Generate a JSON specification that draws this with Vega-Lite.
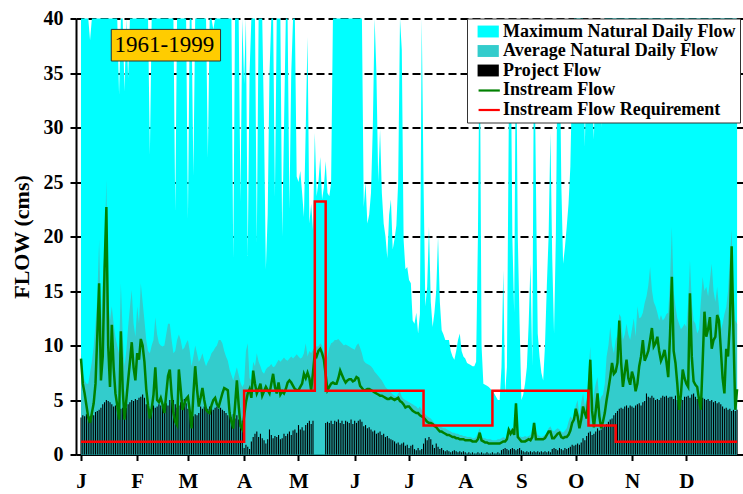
{
"$schema": "https://vega.github.io/schema/vega-lite/v6.json",
"width": 667,
"height": 436,
"autosize": {"type": "none"},
"padding": {"left": 76, "top": 18.5, "right": 0, "bottom": 39.5},
"background": "white",
"config": {
  "view": {"stroke": null},
  "font": "Liberation Serif",
  "axis": {"labelFont": "Liberation Serif", "labelFontWeight": "bold", "labelColor": "black", "domainColor": "black", "domainWidth": 2, "tickColor": "black", "tickWidth": 2, "tickSize": 6, "titleFont": "Liberation Serif", "titleFontWeight": "bold", "titleColor": "black", "labelFlush": false, "labelOverlap": false},
  "axisX": {"labelFontSize": 21, "labelPadding": 10, "grid": false},
  "axisY": {"labelFontSize": 20, "labelPadding": 7, "grid": true, "gridColor": "black", "gridDash": [8, 4], "gridWidth": 1.8, "gridOpacity": 1, "titleFontSize": 22, "titlePadding": 10},
  "legend": {
    "orient": "none", "legendX": 391, "title": null, "padding": 4,
    "labelFont": "Liberation Serif", "labelFontWeight": "bold", "labelFontSize": 18, "labelColor": "black", "labelLimit": 500,
    "symbolSize": 289, "labelOffset": 5.8, "symbolOffset": 8.2
  }
},
"data": {"values": [
{"d":1,"mx":45,"av":9.3,"pf":3.4,"fl":8.8,"rq":1.17},
{"d":2,"mx":45,"av":7.5,"pf":3.6,"fl":6.5,"rq":1.17},
{"d":3,"mx":45,"av":6.8,"pf":3.5,"fl":5.6,"rq":1.17},
{"d":4,"mx":45,"av":6.5,"pf":3.7,"fl":4.5,"rq":1.17},
{"d":5,"mx":45,"av":6.5,"pf":3.6,"fl":3.4,"rq":1.17},
{"d":6,"mx":38,"av":7.5,"pf":3.5,"fl":2.9,"rq":1.17},
{"d":7,"mx":45,"av":8.5,"pf":3.7,"fl":3.8,"rq":1.17},
{"d":8,"mx":45,"av":9.9,"pf":3.6,"fl":4.7,"rq":1.17},
{"d":9,"mx":45,"av":12,"pf":3.9,"fl":6.5,"rq":1.17},
{"d":10,"mx":45,"av":14.5,"pf":4,"fl":11,"rq":1.17},
{"d":11,"mx":45,"av":19.7,"pf":4.1,"fl":15.7,"rq":1.17},
{"d":12,"mx":45,"av":12,"pf":4.3,"fl":6.8,"rq":1.17},
{"d":13,"mx":45,"av":16,"pf":4.6,"fl":9,"rq":1.17},
{"d":14,"mx":45,"av":19,"pf":4.8,"fl":17,"rq":1.17},
{"d":15,"mx":45,"av":25.2,"pf":5,"fl":22.7,"rq":1.17},
{"d":16,"mx":45,"av":14,"pf":4.9,"fl":10,"rq":1.17},
{"d":17,"mx":45,"av":12.3,"pf":4.8,"fl":6.2,"rq":1.17},
{"d":18,"mx":45,"av":13.6,"pf":4.6,"fl":11.9,"rq":1.17},
{"d":19,"mx":45,"av":12,"pf":4.4,"fl":8,"rq":1.17},
{"d":20,"mx":45,"av":10.8,"pf":4.5,"fl":5.6,"rq":1.17},
{"d":21,"mx":45,"av":10,"pf":4.3,"fl":4.5,"rq":1.17},
{"d":22,"mx":33,"av":9.3,"pf":4.4,"fl":3.2,"rq":1.17},
{"d":23,"mx":45,"av":15.7,"pf":4.2,"fl":11.3,"rq":1.17},
{"d":24,"mx":45,"av":11,"pf":4.3,"fl":6,"rq":1.17},
{"d":25,"mx":33.3,"av":8.1,"pf":4.4,"fl":3.2,"rq":1.17},
{"d":26,"mx":45,"av":9.5,"pf":4.3,"fl":5,"rq":1.17},
{"d":27,"mx":34.5,"av":11.7,"pf":4.6,"fl":6.8,"rq":1.17},
{"d":28,"mx":45,"av":13.5,"pf":4.8,"fl":8.5,"rq":1.17},
{"d":29,"mx":45,"av":15.1,"pf":5,"fl":10.3,"rq":1.17},
{"d":30,"mx":45,"av":12,"pf":4.9,"fl":8,"rq":1.17},
{"d":31,"mx":45,"av":10.8,"pf":5.1,"fl":6.8,"rq":1.17},
{"d":32,"mx":45,"av":13.6,"pf":5,"fl":9.3,"rq":1.17},
{"d":33,"mx":45,"av":12,"pf":5.2,"fl":8.7,"rq":1.17},
{"d":34,"mx":45,"av":15.7,"pf":5.3,"fl":10.6,"rq":1.17},
{"d":35,"mx":45,"av":14,"pf":5.5,"fl":10,"rq":1.17},
{"d":36,"mx":45,"av":12.3,"pf":5.2,"fl":8.5,"rq":1.17},
{"d":37,"mx":45,"av":10.5,"pf":4.6,"fl":6,"rq":1.17},
{"d":38,"mx":45,"av":9.5,"pf":4.4,"fl":4.5,"rq":1.17},
{"d":39,"mx":27.5,"av":9.3,"pf":4.2,"fl":3.3,"rq":1.17},
{"d":40,"mx":45,"av":10,"pf":4.4,"fl":4.2,"rq":1.17},
{"d":41,"mx":45,"av":10.5,"pf":4.5,"fl":5.5,"rq":1.17},
{"d":42,"mx":45,"av":12.6,"pf":4.3,"fl":8,"rq":1.17},
{"d":43,"mx":45,"av":11,"pf":4.4,"fl":5,"rq":1.17},
{"d":44,"mx":45,"av":10.2,"pf":4.6,"fl":4.8,"rq":1.17},
{"d":45,"mx":45,"av":10,"pf":4.5,"fl":5.2,"rq":1.17},
{"d":46,"mx":45,"av":9.9,"pf":4.4,"fl":4.6,"rq":1.17},
{"d":47,"mx":45,"av":10,"pf":4.6,"fl":3.8,"rq":1.17},
{"d":48,"mx":45,"av":11,"pf":4.7,"fl":5.5,"rq":1.17},
{"d":49,"mx":45,"av":12,"pf":4.5,"fl":7.2,"rq":1.17},
{"d":50,"mx":45,"av":12,"pf":5,"fl":7.8,"rq":1.17},
{"d":51,"mx":45,"av":10.5,"pf":4.8,"fl":5.5,"rq":1.17},
{"d":52,"mx":45,"av":9.3,"pf":5,"fl":3.8,"rq":1.17},
{"d":53,"mx":22.3,"av":9.5,"pf":4.6,"fl":3,"rq":1.17},
{"d":54,"mx":45,"av":10.5,"pf":4.3,"fl":2.7,"rq":1.17},
{"d":55,"mx":45,"av":11,"pf":4.5,"fl":7.8,"rq":1.17},
{"d":56,"mx":45,"av":10.5,"pf":4.8,"fl":6,"rq":1.17},
{"d":57,"mx":45,"av":9.6,"pf":5,"fl":4.1,"rq":1.17},
{"d":58,"mx":45,"av":9.8,"pf":5.1,"fl":4.6,"rq":1.17},
{"d":59,"mx":45,"av":10.2,"pf":4.7,"fl":5.1,"rq":1.17},
{"d":60,"mx":21.6,"av":10.5,"pf":4.2,"fl":5.3,"rq":1.17},
{"d":61,"mx":45,"av":9.5,"pf":3.7,"fl":4,"rq":1.17},
{"d":62,"mx":45,"av":8.1,"pf":3.6,"fl":2.4,"rq":1.17},
{"d":63,"mx":25.6,"av":9,"pf":3.5,"fl":5.5,"rq":1.17},
{"d":64,"mx":45,"av":10,"pf":3.7,"fl":8.1,"rq":1.17},
{"d":65,"mx":45,"av":9.3,"pf":3.6,"fl":6,"rq":1.17},
{"d":66,"mx":45,"av":8.5,"pf":3.8,"fl":4.4,"rq":1.17},
{"d":67,"mx":45,"av":8.8,"pf":4.4,"fl":5.2,"rq":1.17},
{"d":68,"mx":45,"av":9.3,"pf":4.2,"fl":6.1,"rq":1.17},
{"d":69,"mx":45,"av":8.6,"pf":4.4,"fl":5,"rq":1.17},
{"d":70,"mx":45,"av":8.1,"pf":4.3,"fl":4.1,"rq":1.17},
{"d":71,"mx":27.2,"av":8.5,"pf":4.2,"fl":3.9,"rq":1.17},
{"d":72,"mx":45,"av":8.8,"pf":4.4,"fl":3.8,"rq":1.17},
{"d":73,"mx":45,"av":9.3,"pf":4.3,"fl":4.5,"rq":1.17},
{"d":74,"mx":39,"av":9.5,"pf":4.1,"fl":5,"rq":1.17},
{"d":75,"mx":45,"av":9.8,"pf":4.3,"fl":5.2,"rq":1.17},
{"d":76,"mx":45,"av":10,"pf":4.4,"fl":4.6,"rq":1.17},
{"d":77,"mx":45,"av":10.5,"pf":4.2,"fl":4.4,"rq":1.17},
{"d":78,"mx":45,"av":10.5,"pf":4.3,"fl":5,"rq":1.17},
{"d":79,"mx":45,"av":10.2,"pf":4.1,"fl":5.6,"rq":1.17},
{"d":80,"mx":45,"av":9.5,"pf":4,"fl":6.1,"rq":1.17},
{"d":81,"mx":45,"av":9,"pf":3.8,"fl":6,"rq":1.17},
{"d":82,"mx":45,"av":8.6,"pf":3.6,"fl":5.9,"rq":1.17},
{"d":83,"mx":45,"av":7.8,"pf":3.9,"fl":3.8,"rq":1.17},
{"d":84,"mx":45,"av":7.3,"pf":3.4,"fl":3,"rq":1.17},
{"d":85,"mx":18,"av":6.8,"pf":3.7,"fl":2.4,"rq":1.17},
{"d":86,"mx":45,"av":7.4,"pf":3.3,"fl":4.5,"rq":1.17},
{"d":87,"mx":45,"av":8,"pf":3.6,"fl":6.8,"rq":1.17},
{"d":88,"mx":45,"av":7.3,"pf":3.2,"fl":4.5,"rq":1.17},
{"d":89,"mx":23.2,"av":6.6,"pf":3.4,"fl":2.6,"rq":1.17},
{"d":90,"mx":45,"av":6.2,"pf":3.1,"fl":2.3,"rq":1.17},
{"d":91,"mx":34,"av":6.5,"pf":0.6,"fl":3.5,"rq":5.85},
{"d":92,"mx":45,"av":9.5,"pf":0.9,"fl":4.8,"rq":5.85},
{"d":93,"mx":18.2,"av":10.2,"pf":0.7,"fl":5.6,"rq":5.85},
{"d":94,"mx":35,"av":7,"pf":0.5,"fl":6,"rq":5.85},
{"d":95,"mx":45,"av":6.8,"pf":1.2,"fl":5.2,"rq":5.85},
{"d":96,"mx":45,"av":8.5,"pf":1.6,"fl":7.7,"rq":5.85},
{"d":97,"mx":45,"av":8.1,"pf":1.9,"fl":6.5,"rq":5.85},
{"d":98,"mx":19.4,"av":9.3,"pf":2.1,"fl":5.6,"rq":5.85},
{"d":99,"mx":40,"av":8.5,"pf":1.6,"fl":6,"rq":5.85},
{"d":100,"mx":45,"av":8.1,"pf":1.9,"fl":6.5,"rq":5.85},
{"d":101,"mx":45,"av":7.6,"pf":1.5,"fl":5.4,"rq":5.85},
{"d":102,"mx":30,"av":7.4,"pf":1.3,"fl":5.8,"rq":5.85},
{"d":103,"mx":17,"av":7.8,"pf":1,"fl":6.2,"rq":5.85},
{"d":104,"mx":22,"av":8,"pf":1.4,"fl":5.9,"rq":5.85},
{"d":105,"mx":35,"av":8.1,"pf":2.3,"fl":5.6,"rq":5.85},
{"d":106,"mx":45,"av":8.3,"pf":1.8,"fl":6.5,"rq":5.85},
{"d":107,"mx":45,"av":8,"pf":1.5,"fl":7.4,"rq":5.85},
{"d":108,"mx":23.6,"av":8.1,"pf":1.7,"fl":6.2,"rq":5.85},
{"d":109,"mx":45,"av":8.4,"pf":1.6,"fl":5.6,"rq":5.85},
{"d":110,"mx":45,"av":8.7,"pf":1.8,"fl":6.6,"rq":5.85},
{"d":111,"mx":45,"av":8.5,"pf":1.4,"fl":5.5,"rq":5.85},
{"d":112,"mx":20,"av":8.7,"pf":1.5,"fl":5.8,"rq":5.85},
{"d":113,"mx":30,"av":8.9,"pf":1.9,"fl":5.6,"rq":5.85},
{"d":114,"mx":45,"av":8.7,"pf":1.7,"fl":6,"rq":5.85},
{"d":115,"mx":45,"av":8.6,"pf":1.9,"fl":6.6,"rq":5.85},
{"d":116,"mx":22.5,"av":8.8,"pf":2.1,"fl":6.8,"rq":5.85},
{"d":117,"mx":35,"av":9,"pf":1.8,"fl":6.6,"rq":5.85},
{"d":118,"mx":45,"av":8.8,"pf":2.2,"fl":6.3,"rq":5.85},
{"d":119,"mx":45,"av":9,"pf":2.3,"fl":6,"rq":5.85},
{"d":120,"mx":25.5,"av":9.2,"pf":2,"fl":5.9,"rq":5.85},
{"d":121,"mx":25,"av":9,"pf":2.7,"fl":5.9,"rq":5.85},
{"d":122,"mx":26,"av":8.8,"pf":2.3,"fl":6.2,"rq":5.85},
{"d":123,"mx":24,"av":8.9,"pf":2.5,"fl":6.5,"rq":5.85},
{"d":124,"mx":21.8,"av":9.3,"pf":2.2,"fl":7.4,"rq":5.85},
{"d":125,"mx":30,"av":10.2,"pf":2.7,"fl":7,"rq":5.85},
{"d":126,"mx":38.3,"av":9,"pf":2.9,"fl":7.5,"rq":5.85},
{"d":127,"mx":21.2,"av":9.5,"pf":3.1,"fl":7,"rq":5.85},
{"d":128,"mx":23,"av":9.3,"pf":2.8,"fl":5.9,"rq":5.85},
{"d":129,"mx":20.6,"av":9.6,"pf":3.1,"fl":7.5,"rq":5.85},
{"d":130,"mx":29.5,"av":9.9,"pf":0,"fl":9.3,"rq":23.2},
{"d":131,"mx":23.7,"av":9.9,"pf":0,"fl":9,"rq":23.2},
{"d":132,"mx":25,"av":9.9,"pf":0,"fl":9.5,"rq":23.2},
{"d":133,"mx":27.3,"av":10.2,"pf":0,"fl":9.7,"rq":23.2},
{"d":134,"mx":23.4,"av":10,"pf":0,"fl":9.3,"rq":23.2},
{"d":135,"mx":24.5,"av":9.2,"pf":0,"fl":8.7,"rq":23.2},
{"d":136,"mx":26.9,"av":8.5,"pf":2.9,"fl":7.3,"rq":5.85},
{"d":137,"mx":24,"av":9,"pf":3,"fl":5.9,"rq":5.85},
{"d":138,"mx":23.7,"av":9.8,"pf":2.9,"fl":6.2,"rq":5.85},
{"d":139,"mx":24.9,"av":10.2,"pf":3.1,"fl":6.5,"rq":5.85},
{"d":140,"mx":40,"av":10.3,"pf":2.8,"fl":6.6,"rq":5.85},
{"d":141,"mx":45,"av":10.5,"pf":3.1,"fl":6.5,"rq":5.85},
{"d":142,"mx":45,"av":10.5,"pf":3,"fl":6.5,"rq":5.85},
{"d":143,"mx":45,"av":10.6,"pf":3.2,"fl":7,"rq":5.85},
{"d":144,"mx":45,"av":10.4,"pf":2.9,"fl":7.7,"rq":5.85},
{"d":145,"mx":45,"av":10.2,"pf":3.1,"fl":7.3,"rq":5.85},
{"d":146,"mx":45,"av":10,"pf":2.8,"fl":6.9,"rq":5.85},
{"d":147,"mx":45,"av":10.1,"pf":3.1,"fl":6.6,"rq":5.85},
{"d":148,"mx":45,"av":10,"pf":3,"fl":6.8,"rq":5.85},
{"d":149,"mx":45,"av":9.9,"pf":2.9,"fl":6.9,"rq":5.85},
{"d":150,"mx":45,"av":9.8,"pf":3.2,"fl":6.9,"rq":5.85},
{"d":151,"mx":45,"av":9.7,"pf":2.8,"fl":6.7,"rq":5.85},
{"d":152,"mx":45,"av":9.6,"pf":3.1,"fl":6.8,"rq":5.85},
{"d":153,"mx":45,"av":10,"pf":2.9,"fl":7.1,"rq":5.85},
{"d":154,"mx":45,"av":10.2,"pf":3.1,"fl":7,"rq":5.85},
{"d":155,"mx":45,"av":9.8,"pf":3.2,"fl":6.3,"rq":5.85},
{"d":156,"mx":45,"av":9.3,"pf":3,"fl":6.1,"rq":5.85},
{"d":157,"mx":22.7,"av":8.6,"pf":2.6,"fl":5.9,"rq":5.85},
{"d":158,"mx":25,"av":8.4,"pf":2.7,"fl":5.9,"rq":5.85},
{"d":159,"mx":21.2,"av":8.3,"pf":2.4,"fl":6,"rq":5.85},
{"d":160,"mx":22,"av":8.2,"pf":2.5,"fl":6,"rq":5.85},
{"d":161,"mx":24,"av":8.1,"pf":2.3,"fl":5.9,"rq":5.85},
{"d":162,"mx":30,"av":7.9,"pf":2.1,"fl":5.8,"rq":5.85},
{"d":163,"mx":45,"av":7.6,"pf":2.2,"fl":5.7,"rq":5.85},
{"d":164,"mx":35,"av":7.4,"pf":1.9,"fl":5.6,"rq":5.85},
{"d":165,"mx":25,"av":7.2,"pf":2,"fl":5.5,"rq":5.85},
{"d":166,"mx":29.8,"av":7,"pf":2.1,"fl":5.4,"rq":5.85},
{"d":167,"mx":24,"av":6.8,"pf":1.8,"fl":5.4,"rq":5.85},
{"d":168,"mx":21.2,"av":6.5,"pf":1.9,"fl":5.3,"rq":5.85},
{"d":169,"mx":20,"av":6.2,"pf":1.6,"fl":5.2,"rq":5.85},
{"d":170,"mx":18,"av":6,"pf":1.7,"fl":5.1,"rq":5.85},
{"d":171,"mx":22,"av":5.9,"pf":1.5,"fl":5.1,"rq":5.85},
{"d":172,"mx":23.4,"av":5.7,"pf":1.4,"fl":5.2,"rq":5.85},
{"d":173,"mx":18.8,"av":5.5,"pf":1.3,"fl":5.1,"rq":5.85},
{"d":174,"mx":19.8,"av":5.4,"pf":1.2,"fl":5,"rq":5.85},
{"d":175,"mx":21,"av":5.3,"pf":1,"fl":5.1,"rq":5.85},
{"d":176,"mx":25,"av":5.6,"pf":1.1,"fl":5.2,"rq":5.85},
{"d":177,"mx":45,"av":5.8,"pf":0.9,"fl":4.9,"rq":5.85},
{"d":178,"mx":37.1,"av":5.3,"pf":1,"fl":4.8,"rq":5.85},
{"d":179,"mx":19.7,"av":5.1,"pf":1.1,"fl":4.6,"rq":5.85},
{"d":180,"mx":17,"av":5,"pf":0.8,"fl":4.3,"rq":5.85},
{"d":181,"mx":17.2,"av":4.9,"pf":0.9,"fl":4.4,"rq":5.85},
{"d":182,"mx":16,"av":4.8,"pf":0.6,"fl":4.4,"rq":5.85},
{"d":183,"mx":15.7,"av":4.7,"pf":0.8,"fl":4.2,"rq":5.85},
{"d":184,"mx":12.3,"av":4.6,"pf":0.9,"fl":4,"rq":5.85},
{"d":185,"mx":12,"av":4.5,"pf":0.5,"fl":3.9,"rq":5.85},
{"d":186,"mx":13,"av":4.4,"pf":0.4,"fl":3.8,"rq":5.85},
{"d":187,"mx":11.1,"av":4.2,"pf":0.6,"fl":3.8,"rq":5.85},
{"d":188,"mx":12.9,"av":4.4,"pf":0.4,"fl":3.6,"rq":5.85},
{"d":189,"mx":45,"av":4.1,"pf":0.5,"fl":3.5,"rq":5.85},
{"d":190,"mx":25,"av":3.9,"pf":1,"fl":3.4,"rq":2.65},
{"d":191,"mx":13.6,"av":3.7,"pf":1.5,"fl":3.2,"rq":2.65},
{"d":192,"mx":15.4,"av":3.5,"pf":1.3,"fl":3,"rq":2.65},
{"d":193,"mx":20.9,"av":3.4,"pf":1.6,"fl":2.9,"rq":2.65},
{"d":194,"mx":14,"av":3.3,"pf":1.4,"fl":2.9,"rq":2.65},
{"d":195,"mx":11.7,"av":3.1,"pf":0.9,"fl":2.8,"rq":2.65},
{"d":196,"mx":13,"av":2.9,"pf":0.6,"fl":2.6,"rq":2.65},
{"d":197,"mx":15,"av":2.8,"pf":1,"fl":2.5,"rq":2.65},
{"d":198,"mx":20,"av":2.7,"pf":0.7,"fl":2.3,"rq":2.65},
{"d":199,"mx":14,"av":2.6,"pf":0.5,"fl":2.1,"rq":2.65},
{"d":200,"mx":11.4,"av":2.5,"pf":0.6,"fl":2.1,"rq":2.65},
{"d":201,"mx":11,"av":2.4,"pf":0.4,"fl":2,"rq":2.65},
{"d":202,"mx":10.5,"av":2.4,"pf":0.3,"fl":1.9,"rq":2.65},
{"d":203,"mx":10.5,"av":2.3,"pf":0.4,"fl":1.8,"rq":2.65},
{"d":204,"mx":10.5,"av":2.2,"pf":0.3,"fl":1.8,"rq":2.65},
{"d":205,"mx":9.5,"av":2.1,"pf":0.2,"fl":1.7,"rq":2.65},
{"d":206,"mx":9,"av":2,"pf":0.3,"fl":1.6,"rq":2.65},
{"d":207,"mx":8.7,"av":2,"pf":0.4,"fl":1.6,"rq":2.65},
{"d":208,"mx":9.5,"av":1.9,"pf":0.3,"fl":1.5,"rq":2.65},
{"d":209,"mx":10.5,"av":1.9,"pf":0.2,"fl":1.5,"rq":2.65},
{"d":210,"mx":11.1,"av":1.8,"pf":0.3,"fl":1.4,"rq":2.65},
{"d":211,"mx":9.5,"av":1.8,"pf":0.2,"fl":1.4,"rq":2.65},
{"d":212,"mx":9,"av":1.7,"pf":0.3,"fl":1.4,"rq":2.65},
{"d":213,"mx":8.8,"av":1.7,"pf":0.2,"fl":1.3,"rq":2.65},
{"d":214,"mx":8.4,"av":1.6,"pf":0.1,"fl":1.3,"rq":2.65},
{"d":215,"mx":8.3,"av":1.6,"pf":0.2,"fl":1.3,"rq":2.65},
{"d":216,"mx":8.2,"av":1.6,"pf":0.1,"fl":1.3,"rq":2.65},
{"d":217,"mx":8.1,"av":1.5,"pf":0.2,"fl":1.2,"rq":2.65},
{"d":218,"mx":8.1,"av":1.5,"pf":0.1,"fl":1.2,"rq":2.65},
{"d":219,"mx":8.5,"av":1.6,"pf":0.1,"fl":1.2,"rq":2.65},
{"d":220,"mx":20,"av":2,"pf":0.2,"fl":1.4,"rq":2.65},
{"d":221,"mx":45,"av":2.4,"pf":0.1,"fl":2,"rq":2.65},
{"d":222,"mx":10,"av":1.6,"pf":0.2,"fl":1.3,"rq":2.65},
{"d":223,"mx":6.5,"av":1.5,"pf":0.1,"fl":1.2,"rq":2.65},
{"d":224,"mx":6.4,"av":1.5,"pf":0.1,"fl":1.1,"rq":2.65},
{"d":225,"mx":6.3,"av":1.4,"pf":0.2,"fl":1.1,"rq":2.65},
{"d":226,"mx":6.2,"av":1.4,"pf":0.1,"fl":1,"rq":2.65},
{"d":227,"mx":6,"av":1.4,"pf":0.1,"fl":1,"rq":2.65},
{"d":228,"mx":5.8,"av":1.3,"pf":0.2,"fl":1,"rq":5.85},
{"d":229,"mx":5.6,"av":1.3,"pf":0.1,"fl":1,"rq":5.85},
{"d":230,"mx":5.3,"av":1.3,"pf":0.1,"fl":1,"rq":5.85},
{"d":231,"mx":5,"av":1.4,"pf":0.2,"fl":1,"rq":5.85},
{"d":232,"mx":5,"av":1.4,"pf":0.1,"fl":1,"rq":5.85},
{"d":233,"mx":8,"av":1.5,"pf":0.4,"fl":1.1,"rq":5.85},
{"d":234,"mx":16.9,"av":1.6,"pf":0.5,"fl":1.2,"rq":5.85},
{"d":235,"mx":5.6,"av":1.5,"pf":0.6,"fl":1.2,"rq":5.85},
{"d":236,"mx":8,"av":1.7,"pf":0.5,"fl":1.4,"rq":5.85},
{"d":237,"mx":30,"av":2.5,"pf":0.4,"fl":2.25,"rq":5.85},
{"d":238,"mx":45,"av":2.3,"pf":0.5,"fl":1.9,"rq":5.85},
{"d":239,"mx":20,"av":2.5,"pf":0.6,"fl":2.2,"rq":5.85},
{"d":240,"mx":13,"av":2.2,"pf":0.5,"fl":1.8,"rq":5.85},
{"d":241,"mx":45,"av":5,"pf":0.4,"fl":4.7,"rq":5.85},
{"d":242,"mx":20,"av":2,"pf":0.5,"fl":1.6,"rq":5.85},
{"d":243,"mx":12,"av":1.7,"pf":0.6,"fl":1.4,"rq":5.85},
{"d":244,"mx":5,"av":1.6,"pf":0.4,"fl":1.2,"rq":5.85},
{"d":245,"mx":5.5,"av":1.6,"pf":0.3,"fl":1.2,"rq":5.85},
{"d":246,"mx":6.5,"av":1.7,"pf":0.2,"fl":1.2,"rq":5.85},
{"d":247,"mx":8,"av":1.6,"pf":0.3,"fl":1.3,"rq":5.85},
{"d":248,"mx":12,"av":1.7,"pf":0.2,"fl":1.4,"rq":5.85},
{"d":249,"mx":17.5,"av":1.8,"pf":0.3,"fl":1.3,"rq":5.85},
{"d":250,"mx":8.1,"av":2.2,"pf":0.2,"fl":1.6,"rq":5.85},
{"d":251,"mx":45,"av":3.1,"pf":0.3,"fl":2.9,"rq":5.85},
{"d":252,"mx":25,"av":2.2,"pf":0.2,"fl":1.4,"rq":5.85},
{"d":253,"mx":11.1,"av":1.8,"pf":0.3,"fl":1.4,"rq":5.85},
{"d":254,"mx":9,"av":1.7,"pf":0.2,"fl":1.4,"rq":5.85},
{"d":255,"mx":7.5,"av":1.6,"pf":0.3,"fl":1.4,"rq":5.85},
{"d":256,"mx":6.8,"av":1.7,"pf":0.2,"fl":1.4,"rq":5.85},
{"d":257,"mx":10,"av":1.8,"pf":0.3,"fl":1.5,"rq":5.85},
{"d":258,"mx":15.4,"av":2,"pf":0.2,"fl":1.8,"rq":5.85},
{"d":259,"mx":20,"av":2.4,"pf":0.3,"fl":2.1,"rq":5.85},
{"d":260,"mx":29.5,"av":2.6,"pf":0.2,"fl":2.1,"rq":5.85},
{"d":261,"mx":18,"av":2.2,"pf":0.5,"fl":1.5,"rq":5.85},
{"d":262,"mx":11.1,"av":2.1,"pf":0.6,"fl":1.5,"rq":5.85},
{"d":263,"mx":20,"av":2.3,"pf":0.5,"fl":1.7,"rq":5.85},
{"d":264,"mx":38,"av":2.4,"pf":0.4,"fl":1.9,"rq":5.85},
{"d":265,"mx":45,"av":2.3,"pf":0.6,"fl":2,"rq":5.85},
{"d":266,"mx":25,"av":2.1,"pf":0.5,"fl":1.6,"rq":5.85},
{"d":267,"mx":17.5,"av":2,"pf":0.4,"fl":1.5,"rq":5.85},
{"d":268,"mx":19,"av":2.2,"pf":0.6,"fl":1.6,"rq":5.85},
{"d":269,"mx":20.9,"av":2.4,"pf":0.5,"fl":1.6,"rq":5.85},
{"d":270,"mx":23,"av":3,"pf":0.6,"fl":1.8,"rq":5.85},
{"d":271,"mx":26.4,"av":3.5,"pf":0.7,"fl":2.2,"rq":5.85},
{"d":272,"mx":35,"av":3.3,"pf":0.9,"fl":2.9,"rq":5.85},
{"d":273,"mx":45,"av":3.6,"pf":0.8,"fl":3.2,"rq":5.85},
{"d":274,"mx":45,"av":4.5,"pf":0.9,"fl":4.2,"rq":5.85},
{"d":275,"mx":45,"av":5,"pf":1,"fl":3.5,"rq":5.85},
{"d":276,"mx":45,"av":3.5,"pf":0.9,"fl":2.4,"rq":5.85},
{"d":277,"mx":45,"av":4.8,"pf":1.1,"fl":3.2,"rq":5.85},
{"d":278,"mx":45,"av":5.6,"pf":1.5,"fl":4.4,"rq":5.85},
{"d":279,"mx":28.2,"av":4.5,"pf":1.3,"fl":3.8,"rq":5.85},
{"d":280,"mx":38,"av":5,"pf":1.7,"fl":3.3,"rq":5.85},
{"d":281,"mx":45,"av":7.5,"pf":2,"fl":5.5,"rq":2.65},
{"d":282,"mx":38,"av":9.9,"pf":2.1,"fl":8.7,"rq":2.65},
{"d":283,"mx":33,"av":4.5,"pf":1.8,"fl":4,"rq":2.65},
{"d":284,"mx":28.9,"av":5.6,"pf":1.9,"fl":2.5,"rq":2.65},
{"d":285,"mx":38,"av":6.5,"pf":2.1,"fl":4,"rq":2.65},
{"d":286,"mx":45,"av":7.1,"pf":2.4,"fl":5.6,"rq":2.65},
{"d":287,"mx":38,"av":4.8,"pf":2.2,"fl":3.5,"rq":2.65},
{"d":288,"mx":30,"av":5.3,"pf":2.3,"fl":2.4,"rq":2.65},
{"d":289,"mx":38,"av":5.5,"pf":2.5,"fl":3,"rq":2.65},
{"d":290,"mx":45,"av":6.5,"pf":2.6,"fl":3.8,"rq":2.65},
{"d":291,"mx":45,"av":9,"pf":2.8,"fl":5,"rq":2.65},
{"d":292,"mx":45,"av":10,"pf":3,"fl":6,"rq":2.65},
{"d":293,"mx":45,"av":11.7,"pf":3.2,"fl":7.1,"rq":2.65},
{"d":294,"mx":45,"av":10,"pf":3.3,"fl":8.4,"rq":2.65},
{"d":295,"mx":45,"av":9.3,"pf":3.6,"fl":7.4,"rq":2.65},
{"d":296,"mx":45,"av":10.5,"pf":3.8,"fl":7.6,"rq":1.17},
{"d":297,"mx":45,"av":11,"pf":4,"fl":8.4,"rq":1.17},
{"d":298,"mx":45,"av":12.9,"pf":4.2,"fl":12.3,"rq":1.17},
{"d":299,"mx":45,"av":12.6,"pf":4.3,"fl":8.5,"rq":1.17},
{"d":300,"mx":45,"av":10.5,"pf":4.2,"fl":6.2,"rq":1.17},
{"d":301,"mx":45,"av":11,"pf":4.4,"fl":7.5,"rq":1.17},
{"d":302,"mx":45,"av":12,"pf":4.5,"fl":8.7,"rq":1.17},
{"d":303,"mx":45,"av":11,"pf":4.3,"fl":7,"rq":1.17},
{"d":304,"mx":45,"av":10.5,"pf":4.5,"fl":6.4,"rq":1.17},
{"d":305,"mx":45,"av":11.5,"pf":4.4,"fl":7.6,"rq":1.17},
{"d":306,"mx":45,"av":12.5,"pf":4.3,"fl":7,"rq":1.17},
{"d":307,"mx":45,"av":10.8,"pf":4.5,"fl":5.8,"rq":1.17},
{"d":308,"mx":45,"av":13.6,"pf":4.6,"fl":6.5,"rq":1.17},
{"d":309,"mx":45,"av":12.5,"pf":4.7,"fl":8.1,"rq":1.17},
{"d":310,"mx":45,"av":12.6,"pf":4.5,"fl":9,"rq":1.17},
{"d":311,"mx":45,"av":13,"pf":4.8,"fl":10.5,"rq":1.17},
{"d":312,"mx":45,"av":13.9,"pf":4.9,"fl":8.6,"rq":1.17},
{"d":313,"mx":45,"av":14.5,"pf":5.6,"fl":9,"rq":1.17},
{"d":314,"mx":45,"av":15.5,"pf":5.3,"fl":9.5,"rq":1.17},
{"d":315,"mx":45,"av":17.2,"pf":5.2,"fl":10.5,"rq":1.17},
{"d":316,"mx":45,"av":15.1,"pf":5.4,"fl":11.6,"rq":1.17},
{"d":317,"mx":45,"av":14,"pf":5.2,"fl":9.9,"rq":1.17},
{"d":318,"mx":45,"av":13.6,"pf":5,"fl":10.2,"rq":1.17},
{"d":319,"mx":45,"av":13,"pf":5.1,"fl":10.8,"rq":1.17},
{"d":320,"mx":45,"av":12.3,"pf":5,"fl":9.5,"rq":1.17},
{"d":321,"mx":45,"av":12.8,"pf":5.2,"fl":8.6,"rq":1.17},
{"d":322,"mx":45,"av":12.3,"pf":5.4,"fl":9,"rq":1.17},
{"d":323,"mx":45,"av":12.5,"pf":5.3,"fl":9.6,"rq":1.17},
{"d":324,"mx":45,"av":12.9,"pf":5.4,"fl":8.5,"rq":1.17},
{"d":325,"mx":45,"av":13,"pf":5.2,"fl":7.1,"rq":1.17},
{"d":326,"mx":45,"av":16,"pf":5.3,"fl":11,"rq":1.17},
{"d":327,"mx":45,"av":20.9,"pf":5.3,"fl":16.3,"rq":1.17},
{"d":328,"mx":45,"av":15,"pf":5.1,"fl":9.5,"rq":1.17},
{"d":329,"mx":45,"av":13.6,"pf":5.4,"fl":8.4,"rq":1.17},
{"d":330,"mx":45,"av":12.5,"pf":5,"fl":6.5,"rq":1.17},
{"d":331,"mx":45,"av":12,"pf":5.2,"fl":4.1,"rq":1.17},
{"d":332,"mx":45,"av":11.5,"pf":5.1,"fl":5.5,"rq":1.17},
{"d":333,"mx":45,"av":11.7,"pf":5,"fl":7.8,"rq":1.17},
{"d":334,"mx":45,"av":12,"pf":5.3,"fl":7,"rq":1.17},
{"d":335,"mx":45,"av":11.7,"pf":5.3,"fl":6.5,"rq":1.17},
{"d":336,"mx":45,"av":14,"pf":5.4,"fl":6.2,"rq":1.17},
{"d":337,"mx":45,"av":17.8,"pf":5.2,"fl":14.8,"rq":1.17},
{"d":338,"mx":45,"av":14,"pf":5.5,"fl":9,"rq":1.17},
{"d":339,"mx":45,"av":12.3,"pf":5.6,"fl":6.7,"rq":1.17},
{"d":340,"mx":45,"av":12,"pf":5.3,"fl":6.4,"rq":1.17},
{"d":341,"mx":45,"av":11.1,"pf":5.1,"fl":6.2,"rq":1.17},
{"d":342,"mx":45,"av":11.5,"pf":5.3,"fl":5,"rq":1.17},
{"d":343,"mx":45,"av":14,"pf":5,"fl":4.1,"rq":1.17},
{"d":344,"mx":45,"av":16.3,"pf":5.2,"fl":8.5,"rq":1.17},
{"d":345,"mx":45,"av":15,"pf":5.1,"fl":13.1,"rq":1.17},
{"d":346,"mx":45,"av":15.4,"pf":5,"fl":10.8,"rq":1.17},
{"d":347,"mx":45,"av":14.5,"pf":5.1,"fl":11.5,"rq":1.17},
{"d":348,"mx":45,"av":16,"pf":4.9,"fl":12.6,"rq":1.17},
{"d":349,"mx":45,"av":17.5,"pf":5,"fl":9.7,"rq":1.17},
{"d":350,"mx":45,"av":15,"pf":4.8,"fl":10.5,"rq":1.17},
{"d":351,"mx":45,"av":14,"pf":4.9,"fl":10.8,"rq":1.17},
{"d":352,"mx":45,"av":15.4,"pf":4.7,"fl":12.8,"rq":1.17},
{"d":353,"mx":45,"av":13.5,"pf":4.8,"fl":12.3,"rq":1.17},
{"d":354,"mx":45,"av":11.4,"pf":4.6,"fl":9.7,"rq":1.17},
{"d":355,"mx":45,"av":12,"pf":4.4,"fl":7,"rq":1.17},
{"d":356,"mx":45,"av":12.9,"pf":4.2,"fl":5.6,"rq":1.17},
{"d":357,"mx":45,"av":13.5,"pf":4.3,"fl":9.7,"rq":1.17},
{"d":358,"mx":45,"av":15,"pf":4.1,"fl":9,"rq":1.17},
{"d":359,"mx":45,"av":18,"pf":4.2,"fl":12,"rq":1.17},
{"d":360,"mx":45,"av":20.6,"pf":4,"fl":19.1,"rq":1.17},
{"d":361,"mx":45,"av":15,"pf":4.1,"fl":11,"rq":1.17},
{"d":362,"mx":45,"av":12.3,"pf":4,"fl":4.1,"rq":1.17},
{"d":363,"mx":45,"av":12,"pf":4.1,"fl":6,"rq":1.17}
]},
"layer": [
  {
    "mark": {"type": "area", "opacity": 1},
    "encoding": {
      "x": {"field": "d", "type": "quantitative", "title": null, "scale": {"domain": [1, 363.5], "nice": false, "zero": false},
            "axis": {"values": [1,32,60,91,121,152,182,213,244,274,305,335], "labelExpr": "['J','F','M','A','M','J','J','A','S','O','N','D'][indexof([1,32,60,91,121,152,182,213,244,274,305,335], datum.value)]"}},
      "y": {"field": "mx", "type": "quantitative", "title": "FLOW (cms)", "scale": {"domain": [0, 40], "nice": false, "clamp": true},
            "axis": {"values": [0,5,10,15,20,25,30,35,40]}},
      "fill": {"datum": "Maximum Natural Daily Flow", "type": "nominal",
        "scale": {"domain": ["Maximum Natural Daily Flow", "Average Natural Daily Flow", "Project Flow", "Instream Flow", "Instream Flow Requirement"], "range": ["#00FFFF", "#33CCCC", "#000000", "#FFFFFF", "#FFFFFF"]},
        "legend": {"legendY": 0, "fillColor": "white", "strokeColor": "#333333", "rowPadding": 1.5, "symbolStrokeWidth": 0, "symbolType": "M-1.25,-0.7H1.25V0.7H-1.25Z"}}
    }
  },
  {
    "mark": {"type": "area", "opacity": 1},
    "encoding": {
      "x": {"field": "d", "type": "quantitative", "title": null},
      "y": {"field": "av", "type": "quantitative", "title": "FLOW (cms)"},
      "fill": {"datum": "Average Natural Daily Flow", "type": "nominal"}
    }
  },
  {
    "mark": {"type": "bar", "width": 1.1, "opacity": 1},
    "encoding": {
      "x": {"field": "d", "type": "quantitative", "title": null},
      "y": {"field": "pf", "type": "quantitative", "title": "FLOW (cms)"},
      "fill": {"datum": "Project Flow", "type": "nominal"}
    }
  },
  {
    "mark": {"type": "line", "strokeWidth": 2.5, "opacity": 1},
    "encoding": {
      "x": {"field": "d", "type": "quantitative", "title": null},
      "y": {"field": "fl", "type": "quantitative", "title": "FLOW (cms)"},
      "stroke": {"datum": "Instream Flow", "type": "nominal",
        "scale": {"domain": ["Instream Flow", "Instream Flow Requirement"], "range": ["#008000", "#FF0000"]},
        "legend": {"legendY": 58, "rowPadding": 0.5, "symbolStrokeWidth": 2.2, "symbolType": "M-1.25,0H1.25", "labelExpr": "''", "labelOpacity": 0, "fillColor": null, "strokeColor": null}}
    }
  },
  {
    "mark": {"type": "line", "strokeWidth": 2.5, "interpolate": "step-after", "opacity": 1},
    "encoding": {
      "x": {"field": "d", "type": "quantitative", "title": null},
      "y": {"field": "rq", "type": "quantitative", "title": "FLOW (cms)"},
      "stroke": {"datum": "Instream Flow Requirement", "type": "nominal"}
    }
  },
  {
    "data": {"values": [{"x1": 17.7, "x2": 78, "y1": 36.1, "y2": 39}]},
    "mark": {"type": "rect", "fill": "#FFCC00", "stroke": "#333333", "strokeWidth": 1},
    "encoding": {
      "x": {"field": "x1", "type": "quantitative", "title": null},
      "x2": {"field": "x2"},
      "y": {"field": "y1", "type": "quantitative", "title": "FLOW (cms)"},
      "y2": {"field": "y2"}
    }
  },
  {
    "data": {"values": [{"x": 19.5, "y": 37.55, "t": "1961-1999"}]},
    "mark": {"type": "text", "font": "Liberation Serif", "fontSize": 23, "align": "left", "baseline": "middle", "color": "black"},
    "encoding": {
      "x": {"field": "x", "type": "quantitative", "title": null},
      "y": {"field": "y", "type": "quantitative", "title": "FLOW (cms)"},
      "text": {"field": "t"}
    }
  }
]
}
